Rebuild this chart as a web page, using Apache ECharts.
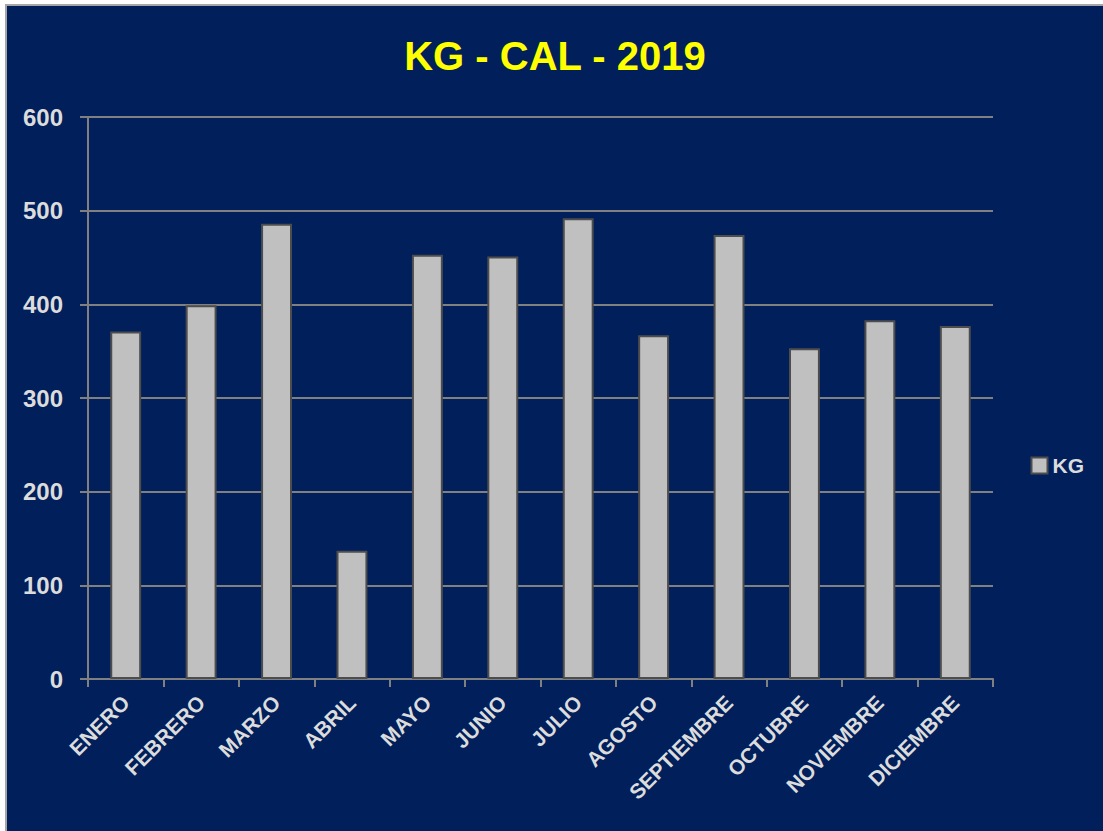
<!DOCTYPE html>
<html>
<head>
<meta charset="utf-8">
<script src="https://cdn.jsdelivr.net/npm/echarts@6/dist/echarts.min.js"></script>
<style>
  html, body { margin: 0; padding: 0; background: #ffffff; }
  #wrap { position: absolute; left: 0; top: 0; width: 1103px; height: 831px; background: #ffffff; }
  #chart { position: absolute; left: 5px; top: 4px; width: 1098px; height: 827px;
           border-left: 2px solid #a6a6a6; border-top: 2px solid #a6a6a6; box-sizing: border-box; }
</style>
</head>
<body>
<div id="wrap"><div id="chart"></div></div>
<script>
var months = ['ENERO', 'FEBRERO', 'MARZO', 'ABRIL', 'MAYO', 'JUNIO', 'JULIO',
              'AGOSTO', 'SEPTIEMBRE', 'OCTUBRE', 'NOVIEMBRE', 'DICIEMBRE'];
var kg = [371, 399, 486, 137, 453, 451, 492, 367, 474, 353, 383, 377];
var yTicks = [0, 100, 200, 300, 400, 500, 600];

(function() {
  var bg = '#001f5b';
  var rule = '#808080';
  var label = '#dcdcdc';
  var font = '"Liberation Sans", Arial, sans-serif';

  var chart = echarts.init(document.getElementById('chart'), null, { renderer: 'svg' });
  chart.setOption({
    animation: false,
    backgroundColor: bg,
    title: {
      text: 'KG - CAL - 2019',
      left: 'center',
      top: 25,
      textStyle: { color: '#ffff00', fontSize: 40, fontWeight: 'bold', fontFamily: font }
    },
    legend: {
      data: ['KG'],
      orient: 'vertical',
      right: 14,
      top: 444,
      itemWidth: 16,
      itemHeight: 16,
      itemGap: 8,
      icon: 'rect',
      textStyle: { color: label, fontSize: 21, fontWeight: 'bold', fontFamily: font }
    },
    grid: { left: 81, right: 110, top: 111, bottom: 152 },
    xAxis: {
      type: 'category',
      data: months,
      axisLine: { lineStyle: { color: rule, width: 2 } },
      axisTick: { show: true, length: 8, lineStyle: { color: rule, width: 2 } },
      axisLabel: {
        color: label, fontSize: 21, fontWeight: 'bold', fontFamily: font,
        rotate: 45, interval: 0, margin: 20
      }
    },
    yAxis: {
      type: 'value',
      min: yTicks[0],
      max: yTicks[yTicks.length - 1],
      interval: 100,
      axisLine: { show: true, lineStyle: { color: rule, width: 2 } },
      axisTick: { show: true, length: 8, lineStyle: { color: rule, width: 2 } },
      splitLine: { lineStyle: { color: rule, width: 2 } },
      axisLabel: { color: label, fontSize: 24, fontWeight: 'bold', fontFamily: font, margin: 25 }
    },
    series: [{
      name: 'KG',
      type: 'bar',
      data: kg,
      barWidth: '41%',
      itemStyle: { color: '#c0c0c0', borderColor: '#4d4d4d', borderWidth: 2 }
    }]
  });
})();
</script>
</body>
</html>
